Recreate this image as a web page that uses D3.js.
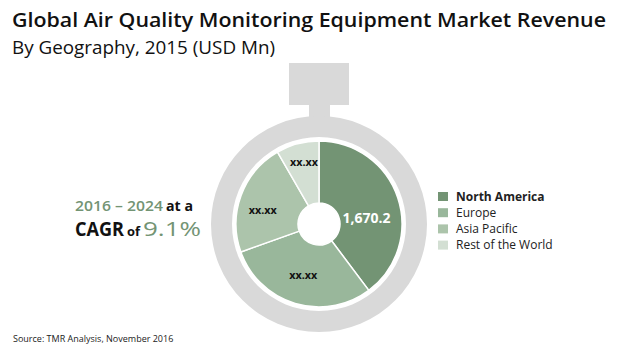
<!DOCTYPE html>
<html><head><meta charset="utf-8">
<script src="https://cdn.jsdelivr.net/npm/d3@7"></script>
<style>body{margin:0;background:#fff}svg{display:block}</style>
</head><body>
<svg id="c" width="620" height="352"></svg>
<script>
const categories = ["North America", "Europe", "Asia Pacific", "Rest of the World"];
const values = [1670.2, 1250, 930, 350];
const labels = ["1,670.2", "xx.xx", "xx.xx", "xx.xx"];
const colors = ["#739474", "#99b79b", "#acc4ab", "#d3dfd3"];
const cagrLine1 = ["2016 – 2024", "at a"];
const cagrLine2 = ["CAGR", "of", "9.1%"];

const svg = d3.select("#c");
const font = "Open Sans, Calibri, sans-serif";
const cx = 319, cy = 224;

// title
svg.append("text").attr("x", 12).attr("y", 27).attr("font-family", font)
  .attr("font-weight", 600).attr("font-size", 20).attr("fill", "#111")
  .attr("textLength", 594).attr("lengthAdjust", "spacingAndGlyphs")
  .text("Global Air Quality Monitoring Equipment Market Revenue");
svg.append("text").attr("x", 12).attr("y", 54).attr("font-family", font)
  .attr("font-size", 18).attr("fill", "#111")
  .attr("textLength", 263).attr("lengthAdjust", "spacingAndGlyphs")
  .text("By Geography, 2015 (USD Mn)");

// stopwatch body
const g = svg.append("g").attr("transform", `translate(${cx},${cy})`);
g.append("rect").attr("x", -30).attr("y", 63 - cy).attr("width", 60).attr("height", 42).attr("fill", "#d9d9d9");
g.append("rect").attr("x", -10).attr("y", 104 - cy).attr("width", 21).attr("height", 20).attr("fill", "#d9d9d9");
g.append("path").attr("d", d3.arc()({innerRadius: 87, outerRadius: 108, startAngle: 0, endAngle: 2 * Math.PI})).attr("fill", "#d9d9d9");

const pie = d3.pie().sort(null).value(d => d)(values);
const arc = d3.arc().innerRadius(21).outerRadius(83);
g.selectAll("path.s").data(pie).enter().append("path").attr("class", "s")
  .attr("d", arc).attr("fill", (d, i) => colors[i]).attr("stroke", "#fff").attr("stroke-width", 1.5);

const labelR = [50, 55, 60, 58];
const labelDy = [9, -2, 7, -6];
g.selectAll("text.l").data(pie).enter().append("text").attr("class", "l")
  .attr("transform", (d, i) => {
    const c = d3.arc().innerRadius(labelR[i]).outerRadius(labelR[i]).centroid(d);
    return `translate(${c[0]},${c[1] + labelDy[i]})`;
  })
  .attr("text-anchor", "middle").attr("dominant-baseline", "central")
  .attr("font-family", font).attr("font-weight", 700)
  .attr("font-size", (d, i) => i === 0 ? 15 : 10.5)
  .attr("fill", (d, i) => i === 0 ? "#fff" : "#111")
  .attr("textLength", (d, i) => i === 0 ? 48 : 28)
  .attr("lengthAdjust", "spacingAndGlyphs")
  .text((d, i) => labels[i]);

// CAGR text as separate runs
function runs(items, y, styles) {
  items.forEach((s, i) => {
    const st = styles[i];
    svg.append("text").attr("x", st.x).attr("y", y).attr("font-family", font)
      .attr("font-size", st.size).attr("font-weight", st.weight).attr("fill", st.fill)
      .attr("textLength", st.len).attr("lengthAdjust", "spacingAndGlyphs").text(s);
  });
}
runs(cagrLine1, 210.5, [
  {x: 75, size: 13.5, weight: 600, fill: "#739474", len: 88},
  {x: 166, size: 13.5, weight: 700, fill: "#111", len: 27}]);
runs(cagrLine2, 235.5, [
  {x: 75, size: 19, weight: 700, fill: "#111", len: 49},
  {x: 127, size: 12, weight: 700, fill: "#111", len: 13},
  {x: 143, size: 19.5, weight: 400, fill: "#739474", len: 58}]);

// legend
const lg = svg.append("g").attr("transform", "translate(438,192)");
categories.forEach((c, i) => {
  lg.append("rect").attr("x", 0).attr("y", i * 16.2).attr("width", 10).attr("height", 9).attr("fill", colors[i]);
  lg.append("text").attr("x", 18).attr("y", i * 16.2 + 8.5).attr("font-family", font)
    .attr("font-size", 12).attr("font-weight", i === 0 ? 700 : 400).attr("fill", "#222").text(c);
});

svg.append("text").attr("x", 13).attr("y", 342).attr("font-family", font)
  .attr("font-size", 9).attr("fill", "#222").text("Source: TMR Analysis, November 2016");
</script>
</body></html>
